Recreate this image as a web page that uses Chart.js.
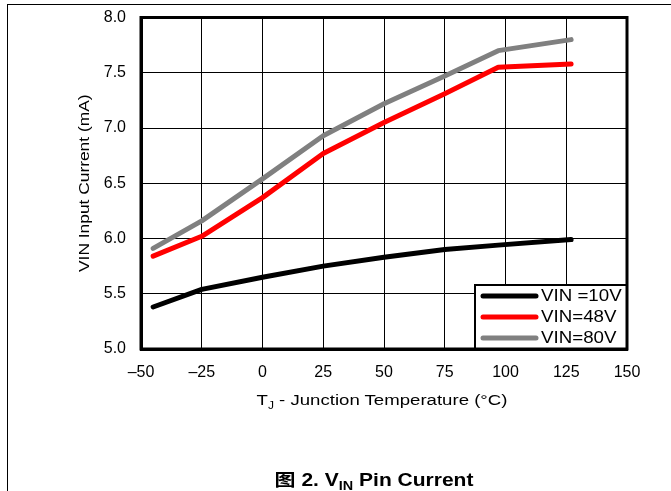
<!DOCTYPE html>
<html>
<head>
<meta charset="utf-8">
<script src="https://cdn.jsdelivr.net/npm/chart.js@4/dist/chart.umd.min.js"></script>
<style>
  html, body { margin:0; padding:0; background:#fff; }
  #wrap { position:relative; width:671px; height:491px; overflow:hidden; font-family:"Liberation Sans", Arial, sans-serif; }
  #frame { position:absolute; left:7px; top:4px; width:670px; height:500px; border-top:1.5px solid #000; border-left:1.5px solid #000; }
  canvas { position:absolute; left:0; top:0; }
  #xtitle { position:absolute; left:182px; width:400px; top:391px; text-align:center; font-size:15.5px; color:#000; transform:scaleX(1.2); transform-origin:50% 50%; white-space:nowrap; }
  #xtitle sub { font-size:10px; vertical-align:-4px; line-height:0; }
  #caption { position:absolute; left:174px; width:400px; top:466px; text-align:center; font-size:17.5px; font-weight:bold; color:#000; font-family:"Liberation Sans", "Noto Sans CJK SC", sans-serif; transform:scaleX(1.2); transform-origin:50% 50%; white-space:nowrap; }
  #caption sub { font-size:12px; vertical-align:-4px; line-height:0; }
</style>
</head>
<body>
<div id="wrap">
  <div id="frame"></div>
  <canvas id="c" width="671" height="491"></canvas>
  <div id="xtitle">T<sub>J</sub> - Junction Temperature (°C)</div>
  <div id="caption">图 2. V<sub>IN</sub> Pin Current</div>
</div>
<script>
const temps = [-45, -25, 0, 25, 50, 75, 97, 127];
const vin10 = [5.38, 5.54, 5.65, 5.75, 5.83, 5.90, 5.94, 5.99];
const vin48 = [5.84, 6.02, 6.37, 6.77, 7.05, 7.31, 7.55, 7.58];
const vin80 = [5.91, 6.16, 6.54, 6.93, 7.22, 7.47, 7.70, 7.80];
const seriesLabels = ["VIN =10V", "VIN=48V", "VIN=80V"];
const seriesColors = ["#000000", "#ff0000", "#808080"];
const xTickValues = [-50, -25, 0, 25, 50, 75, 100, 125, 150];
const yTickValues = [5.0, 5.5, 6.0, 6.5, 7.0, 7.5, 8.0];
const yTitle = "VIN Input Current (mA)";

const toPts = arr => arr.map((v, i) => ({ x: temps[i], y: v }));
const FONT = "'Liberation Sans', Arial, sans-serif";

const frameAndLegend = {
  id: 'frameAndLegend',
  afterDatasetsDraw(chart) {
    const ctx = chart.ctx, a = chart.chartArea;
    ctx.save();
    // legend box
    const bw = 153, bh = 65;
    const bx = a.right - bw, by = a.bottom - bh;
    ctx.fillStyle = '#fff';
    ctx.fillRect(bx, by, bw, bh);
    ctx.strokeStyle = '#000';
    ctx.lineWidth = 2;
    ctx.strokeRect(bx + 1, by + 1, bw - 1, bh - 1);
    ctx.textBaseline = 'middle';
    chart.data.datasets.forEach((ds, i) => {
      const yy = by + 12 + i * 21;
      ctx.beginPath();
      ctx.lineCap = 'round';
      ctx.lineWidth = 5;
      ctx.strokeStyle = ds.borderColor;
      ctx.moveTo(bx + 9, yy);
      ctx.lineTo(bx + 62, yy);
      ctx.stroke();
      ctx.save();
      ctx.translate(bx + 67, yy + 1);
      ctx.scale(1.17, 1);
      ctx.font = '16px ' + FONT;
      ctx.fillStyle = '#000';
      ctx.fillText(ds.label, 0, 0);
      ctx.restore();
    });
    // plot frame
    ctx.lineCap = 'butt';
    ctx.lineWidth = 3;
    ctx.strokeStyle = '#000';
    ctx.strokeRect(a.left, a.top, a.right - a.left, a.bottom - a.top);
    // y axis title
    ctx.save();
    ctx.translate(85, (a.top + a.bottom) / 2);
    ctx.rotate(-Math.PI / 2);
    ctx.scale(1.12, 1);
    ctx.font = '15.5px ' + FONT;
    ctx.fillStyle = '#000';
    ctx.textAlign = 'center';
    ctx.textBaseline = 'middle';
    ctx.fillText(yTitle, 0, 0);
    ctx.restore();
    ctx.restore();
  }
};

new Chart(document.getElementById('c'), {
  type: 'line',
  data: {
    datasets: [
      { label: seriesLabels[0], data: toPts(vin10), borderColor: seriesColors[0] },
      { label: seriesLabels[1], data: toPts(vin48), borderColor: seriesColors[1] },
      { label: seriesLabels[2], data: toPts(vin80), borderColor: seriesColors[2] }
    ].map(d => Object.assign(d, { borderWidth: 5, pointRadius: 0, tension: 0, fill: false, borderCapStyle: 'round', borderJoinStyle: 'round' }))
  },
  options: {
    responsive: false,
    animation: false,
    devicePixelRatio: 1,
    layout: { padding: { top: 17.5, right: 44, left: 0, bottom: 0 } },
    plugins: { legend: { display: false }, tooltip: { enabled: false } },
    scales: {
      x: {
        type: 'linear', min: -50, max: 150,
        afterBuildTicks: s => { s.ticks = xTickValues.map(v => ({ value: v })); },
        afterFit: s => { s.height = 142; s.paddingLeft = 0; s.paddingRight = 0; },
        grid: { color: '#000', lineWidth: 1, drawTicks: false },
        border: { color: '#000', width: 3 },
        ticks: {
          padding: 14, color: '#000', font: { family: FONT, size: 16 },
          callback: v => String(v).replace('-', '\u2013')
        }
      },
      y: {
        min: 5, max: 8,
        afterBuildTicks: s => { s.ticks = yTickValues.map(v => ({ value: v })); },
        afterFit: s => { s.width = 141; s.paddingTop = 0; s.paddingBottom = 0; },
        grid: { color: '#000', lineWidth: 1, drawTicks: false },
        border: { color: '#000', width: 3 },
        title: { display: false },
        ticks: {
          padding: 15, color: '#000', font: { family: FONT, size: 16 },
          callback: v => Number(v).toFixed(1)
        }
      }
    }
  },
  plugins: [frameAndLegend]
});
</script>
</body>
</html>
